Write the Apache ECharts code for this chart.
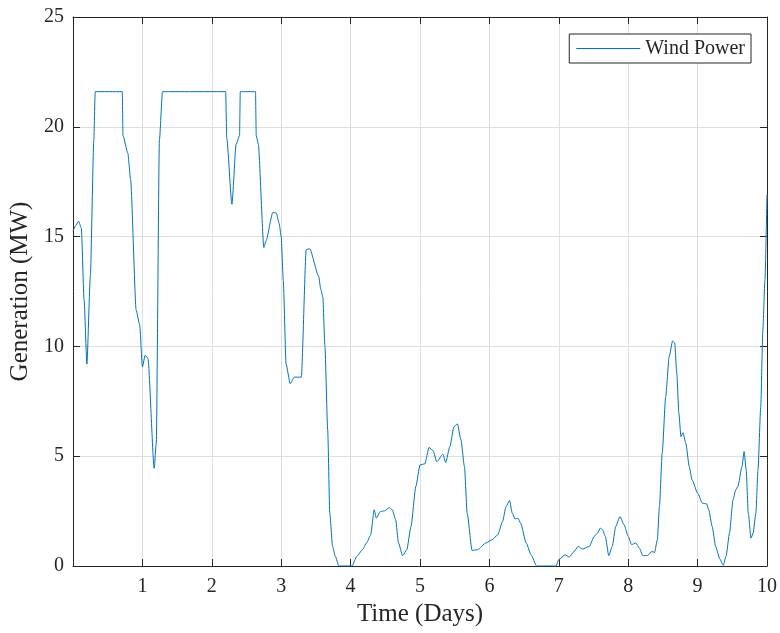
<!DOCTYPE html>
<html>
<head>
<meta charset="utf-8">
<script src="https://cdn.jsdelivr.net/npm/echarts@6/dist/echarts.min.js"></script>
<style>
html,body{margin:0;padding:0;background:#fff;}
#chart{width:780px;height:633px;}
</style>
</head>
<body>
<div id="chart"></div>
<script>
// Time in days
var timeDays = [
  0.00, 0.04, 0.08, 0.12, 0.16, 0.20, 0.25, 0.30, 0.32, 0.71,
  0.72, 0.79, 0.83, 0.91, 0.96, 1.00, 1.04, 1.08, 1.17, 1.20,
  1.245, 1.29, 2.20, 2.215, 2.29, 2.35, 2.40, 2.41, 2.63, 2.64,
  2.67, 2.75, 2.78, 2.88, 2.93, 2.97, 3.00, 3.03, 3.07, 3.13,
  3.19, 3.29, 3.36, 3.41, 3.54, 3.57, 3.60, 3.63, 3.67, 3.70,
  3.74, 3.78, 3.83, 4.02, 4.09, 4.17, 4.23, 4.29, 4.34, 4.37,
  4.43, 4.49, 4.56, 4.60, 4.65, 4.69, 4.75, 4.81, 4.87, 4.94,
  5.00, 5.07, 5.13, 5.19, 5.24, 5.33, 5.37, 5.43, 5.49, 5.54,
  5.59, 5.64, 5.68, 5.75, 5.83, 5.95, 6.04, 6.12, 6.19, 6.24,
  6.29, 6.33, 6.37, 6.41, 6.45, 6.53, 6.60, 6.68, 6.96, 7.00,
  7.09, 7.15, 7.22, 7.28, 7.34, 7.44, 7.51, 7.56, 7.60, 7.63,
  7.67, 7.72, 7.77, 7.82, 7.88, 7.94, 8.00, 8.05, 8.11, 8.16,
  8.21, 8.28, 8.34, 8.38, 8.42, 8.45, 8.49, 8.54, 8.59, 8.64,
  8.67, 8.70, 8.73, 8.76, 8.79, 8.83, 8.88, 8.92, 9.00, 9.07,
  9.13, 9.16, 9.21, 9.26, 9.32, 9.37, 9.41, 9.46, 9.51, 9.55,
  9.58, 9.64, 9.67, 9.70, 9.73, 9.77, 9.80, 9.84, 9.87, 9.91,
  9.94, 9.97, 10.00
];
// Wind power generation in MW
var windPower = [
  15.25, 15.5, 15.7, 15.4, 12.1, 9.2, 13.2, 19.4, 21.6, 21.6,
  19.6, 18.8, 17.6, 11.65, 11.0, 9.07, 9.6, 9.45, 4.45, 5.6,
  19.4, 21.6, 21.6, 19.5, 16.47, 19.2, 19.6, 21.6, 21.6, 19.6,
  19.2, 14.5, 14.8, 16.1, 16.07, 15.6, 15.0, 13.0, 9.2, 8.3,
  8.6, 8.6, 14.4, 14.45, 13.2, 12.6, 12.25, 10.0, 6.2, 2.4,
  0.9, 0.44, 0, 0, 0.44, 0.74, 1.05, 1.42, 2.56, 2.18,
  2.48, 2.51, 2.66, 2.56, 2.1, 1.05, 0.47, 0.74, 1.8, 3.62,
  4.6, 4.65, 5.4, 5.25, 4.75, 5.09, 4.71, 5.44, 6.35, 6.47,
  5.74, 4.53, 2.4, 0.71, 0.74, 1.05, 1.2, 1.42, 2.03, 2.71,
  2.98, 2.4, 2.14, 2.18, 1.95, 1.05, 0.51, 0, 0, 0.29,
  0.51, 0.41, 0.66, 0.89, 0.77, 0.89, 1.35, 1.5, 1.73, 1.65,
  1.35, 0.47, 0.89, 1.8, 2.25, 1.88, 1.35, 0.97, 1.05, 0.82,
  0.47, 0.48, 0.66, 0.62, 1.2, 2.71, 5.14, 7.71, 9.53, 10.25,
  10.16, 8.77, 6.95, 5.89, 6.07, 5.59, 4.53, 3.92, 3.32, 2.86,
  2.83, 2.56, 1.8, 0.89, 0.32, 0.03, 0.44, 1.5, 3.01, 3.47,
  3.62, 4.53, 5.21, 4.38, 2.4, 1.27, 1.5, 2.4, 4.38, 7.25,
  10.74, 13.0, 16.9
];
var xTicks = [0, 1, 2, 3, 4, 5, 6, 7, 8, 9, 10];
var yTicks = [0, 5, 10, 15, 20, 25];
var seriesName = 'Wind Power';

var FONT = '"Liberation Serif", "Times New Roman", serif';
var AXC = '#262626';
var GRIDC = '#dfdfdf';
var LINEC = '#0072BD';

var pairs = timeDays.map(function (t, i) { return [t, windPower[i]]; });

var chart = echarts.init(document.getElementById('chart'), null, {renderer: 'canvas'});
var xBase = {
  type: 'value', min: xTicks[0], max: xTicks[xTicks.length - 1], interval: 1
};
var yBase = {
  type: 'value', min: yTicks[0], max: yTicks[yTicks.length - 1], interval: 5
};
chart.setOption({
  animation: false,
  backgroundColor: '#fff',
  grid: {left: 73, top: 17, width: 695, height: 549, containLabel: false},
  legend: {
    data: [{name: seriesName, icon: 'rect'}],
    right: 29, top: 34,
    orient: 'vertical',
    backgroundColor: '#fff',
    borderColor: AXC, borderWidth: 1,
    padding: [4, 6, 4, 7],
    itemWidth: 64, itemHeight: 1,
    itemStyle: {color: LINEC},
    textStyle: {fontFamily: FONT, fontSize: 20, color: AXC, lineHeight: 21}
  },
  xAxis: [
    Object.assign({}, xBase, {
      position: 'bottom',
      name: 'Time (Days)', nameLocation: 'middle', nameGap: 33,
      nameTextStyle: {fontFamily: FONT, fontSize: 25, color: AXC},
      axisLine: {show: true, onZero: false, lineStyle: {color: AXC, width: 1}},
      axisTick: {show: true, inside: true, length: 7, lineStyle: {color: AXC}},
      axisLabel: {
        margin: 11, fontFamily: FONT, fontSize: 20, color: AXC,
        formatter: function (v) { return v === 0 ? '' : String(v); }
      },
      splitLine: {show: true, lineStyle: {color: GRIDC, width: 1}}
    }),
    Object.assign({}, xBase, {
      position: 'top',
      axisLine: {show: true, onZero: false, lineStyle: {color: AXC, width: 1}},
      axisTick: {show: true, inside: true, length: 7, lineStyle: {color: AXC}},
      axisLabel: {show: false},
      splitLine: {show: false}
    })
  ],
  yAxis: [
    Object.assign({}, yBase, {
      position: 'left',
      name: 'Generation (MW)', nameLocation: 'middle', nameGap: 35,
      nameTextStyle: {fontFamily: FONT, fontSize: 25, color: AXC},
      axisLine: {show: true, onZero: false, lineStyle: {color: AXC, width: 1}},
      axisTick: {show: true, inside: true, length: 7, lineStyle: {color: AXC}},
      axisLabel: {margin: 9, fontFamily: FONT, fontSize: 20, color: AXC},
      splitLine: {show: true, lineStyle: {color: GRIDC, width: 1}}
    }),
    Object.assign({}, yBase, {
      position: 'right',
      axisLine: {show: true, onZero: false, lineStyle: {color: AXC, width: 1}},
      axisTick: {show: true, inside: true, length: 7, lineStyle: {color: AXC}},
      axisLabel: {show: false},
      splitLine: {show: false}
    })
  ],
  series: [{
    name: seriesName,
    type: 'line',
    xAxisIndex: 0, yAxisIndex: 0,
    data: pairs,
    symbol: 'none',
    smooth: 0.2,
    smoothMonotone: 'x',
    lineStyle: {color: LINEC, width: 1},
    itemStyle: {color: LINEC},
    clip: true
  }]
});
</script>
</body>
</html>
